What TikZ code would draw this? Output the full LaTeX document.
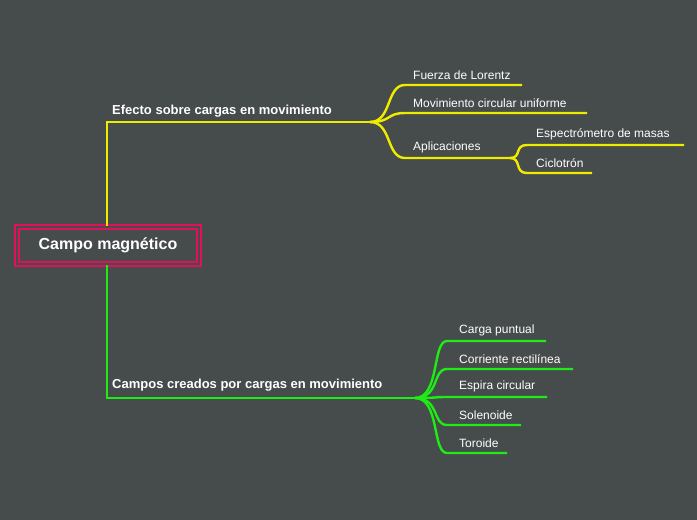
\documentclass[tikz,border=0pt]{standalone}
\usepackage{fontspec}
\setmainfont{Liberation Sans}
\definecolor{bg}{RGB}{70,75,75}
\definecolor{yel}{RGB}{240,236,0}
\definecolor{grn}{RGB}{30,236,20}
\definecolor{rootred}{RGB}{224,16,90}
\begin{document}
\begin{tikzpicture}[x=1pt,y=-1pt,
  lbl/.style={text=white,font=\fontsize{12}{14}\selectfont,anchor=south west,inner sep=0pt},
  mlbl/.style={text=white,font=\bfseries\fontsize{13}{15}\selectfont,anchor=south west,inner sep=0pt},
  ye/.style={draw=yel,line width=2.4pt},
  gr/.style={draw=grn,line width=2.4pt}]
\fill[bg] (0,0) rectangle (697,520);
\useasboundingbox (0,0) rectangle (697,520);
% root
\node[draw=rootred,line width=2pt,minimum width=182pt,minimum height=37pt,
  double=bg,double distance=2pt,text=white,font=\bfseries\fontsize{16}{18}\selectfont] (root) at (108,245.5) {Campo magnético};
% yellow main
\coordinate (y0) at (107,122); \coordinate (yj) at (370,122);
\draw[ye] (root.north -| y0) -- (y0) -- (yj);
\node[mlbl] (e1) at (112,117) {Efecto sobre cargas en movimiento};
\foreach \n/\y/\e/\t in {f/85/522/Fuerza de Lorentz, m/113/587/Movimiento circular uniforme, a/158/510/Aplicaciones}{
  \coordinate (\n s) at (405,\y); \coordinate (\n e) at (\e,\y);
  \draw[ye] (yj) .. controls (392,122) and (386,\y) .. (\n s) -- (\n e);
  \node[lbl] (\n) at (413,\y-5) {\t};
}
\foreach \n/\y/\e/\t in {es/145/684/Espectrómetro de masas, ci/173/592/Ciclotrón}{
  \coordinate (\n s) at (527,\y); \coordinate (\n e) at (\e,\y);
  \draw[ye] (ae) .. controls (522,158) and (514,\y) .. (\n s) -- (\n e);
  \node[lbl] (\n) at (536,\y-5) {\t};
}
% green main
\coordinate (g0) at (107,398); \coordinate (gj) at (415,398);
\draw[gr] (root.south -| g0) -- (g0) -- (gj);
\node[mlbl] (e2) at (112,391) {Campos creados por cargas en movimiento};
\foreach \n/\y/\e/\t in {cp/341/546/Carga puntual, cr/369/573/Corriente rectilínea, ec/397/547/Espira circular, so/425/521/Solenoide, to/453/507/Toroide}{
  \coordinate (\n s) at (447,\y); \coordinate (\n e) at (\e,\y);
  \draw[gr] (gj) .. controls (440,398) and (432,\y) .. (\n s) -- (\n e);
  \node[lbl] (\n) at (459,\y-5) {\t};
}
\end{tikzpicture}
\end{document}
